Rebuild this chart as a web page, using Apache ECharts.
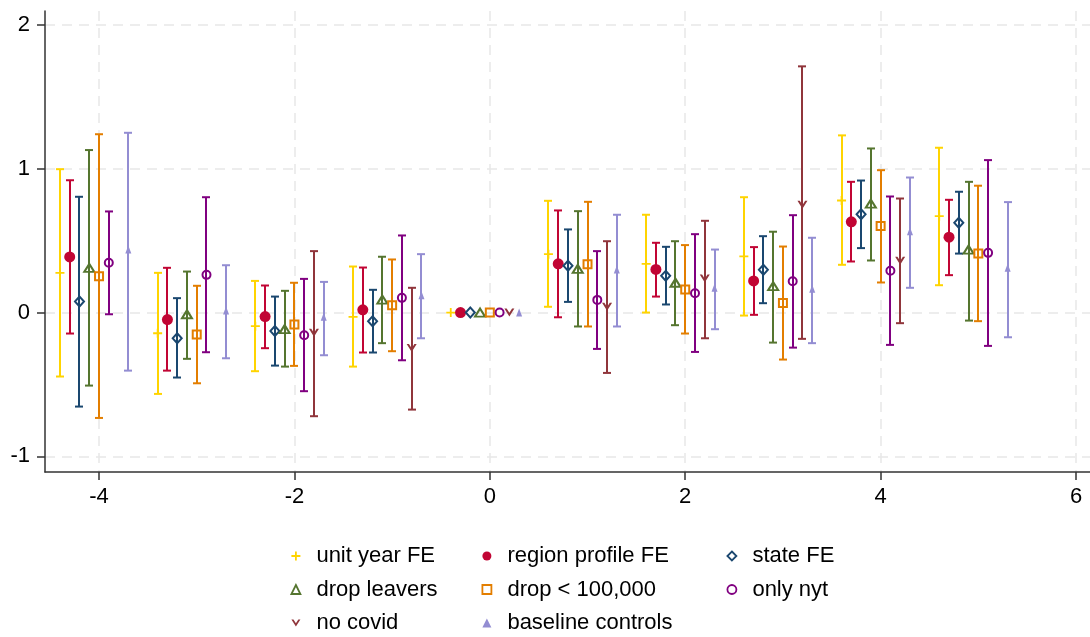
<!DOCTYPE html>
<html>
<head>
<meta charset="utf-8">
<script src="https://cdn.jsdelivr.net/npm/echarts@6/dist/echarts.min.js"></script>
<style>html,body{margin:0;padding:0;background:#fff}#c{width:1090px;height:637px}</style>
</head>
<body>
<div id="c"></div>
<script>
const periods = [-4, -3, -2, -1, 0, 1, 2, 3, 4, 5];
const xTicks = [-4, -2, 0, 2, 4, 6];
const yTicks = [-1, 0, 1, 2];

const names = ['unit year FE', 'region profile FE', 'state FE', 'drop leavers', 'drop < 100,000', 'only nyt', 'no covid', 'baseline controls'];

const unitYearPt = [0.276, -0.144, -0.095, -0.03, 0, 0.406, 0.339, 0.39, 0.779, 0.67];
const unitYearLo = [-0.445, -0.566, -0.408, -0.376, 0, 0.04, 0.0, -0.021, 0.332, 0.19];
const unitYearHi = [0.997, 0.276, 0.22, 0.32, 0, 0.777, 0.68, 0.802, 1.232, 1.146];

const regionPt = [0.387, -0.049, -0.028, 0.019, 0, 0.339, 0.3, 0.22, 0.631, 0.524];
const regionLo = [-0.146, -0.404, -0.248, -0.278, 0, -0.033, 0.111, -0.016, 0.355, 0.26];
const regionHi = [0.92, 0.311, 0.188, 0.313, 0, 0.71, 0.485, 0.455, 0.909, 0.784];

const statePt = [0.077, -0.179, -0.128, -0.06, 0, 0.325, 0.255, 0.297, 0.684, 0.624];
const stateLo = [-0.654, -0.452, -0.369, -0.278, 0, 0.074, 0.056, 0.065, 0.448, 0.41];
const stateHi = [0.805, 0.1, 0.111, 0.158, 0, 0.578, 0.457, 0.531, 0.918, 0.84];

const leaversPt = [0.31, -0.012, -0.115, 0.09, 0, 0.304, 0.207, 0.183, 0.758, 0.438];
const leaversLo = [-0.508, -0.322, -0.376, -0.213, 0, -0.097, -0.088, -0.209, 0.362, -0.056];
const leaversHi = [1.13, 0.285, 0.151, 0.388, 0, 0.705, 0.496, 0.562, 1.141, 0.909];

const drop100kPt = [0.253, -0.153, -0.084, 0.051, 0, 0.336, 0.16, 0.067, 0.601, 0.41];
const drop100kLo = [-0.733, -0.492, -0.371, -0.269, 0, -0.097, -0.146, -0.327, 0.209, -0.06];
const drop100kHi = [1.24, 0.186, 0.207, 0.369, 0, 0.77, 0.469, 0.459, 0.99, 0.882];

const nytPt = [0.346, 0.262, -0.158, 0.102, 0, 0.088, 0.134, 0.218, 0.29, 0.415];
const nytLo = [-0.012, -0.276, -0.547, -0.332, 0, -0.253, -0.274, -0.244, -0.225, -0.232];
const nytHi = [0.703, 0.802, 0.234, 0.536, 0, 0.427, 0.545, 0.677, 0.807, 1.06];

const covidPt = [null, null, -0.14, -0.246, 0, 0.04, 0.237, 0.75, 0.36, null];
const covidLo = [null, null, -0.721, -0.675, 0, -0.42, -0.179, -0.183, -0.074, null];
const covidHi = [null, null, 0.427, 0.172, 0, 0.496, 0.638, 1.712, 0.793, null];

const baselinePt = [0.438, 0.014, -0.03, 0.12, 0, 0.3, 0.172, 0.165, 0.566, 0.311];
const baselineLo = [-0.404, -0.318, -0.297, -0.179, 0, -0.097, -0.116, -0.213, 0.172, -0.172];
const baselineHi = [1.25, 0.329, 0.213, 0.406, 0, 0.68, 0.438, 0.52, 0.939, 0.768];

const allPt = [unitYearPt, regionPt, statePt, leaversPt, drop100kPt, nytPt, covidPt, baselinePt];
const allLo = [unitYearLo, regionLo, stateLo, leaversLo, drop100kLo, nytLo, covidLo, baselineLo];
const allHi = [unitYearHi, regionHi, stateHi, leaversHi, drop100kHi, nytHi, covidHi, baselineHi];

// styling
const offsets = [-0.4, -0.3, -0.2, -0.1, 0, 0.1, 0.2, 0.3];
const colors = ['#FFD400', '#C10534', '#1A476F', '#55752F', '#E37E00', '#800080', '#90353B', '#938DD2'];
const plusPath = 'path://M4,0h2v4h4v2h-4v4h-2v-4h-4v-2h4z';
const vPath = 'path://M0,0L2.3,0L5,4.3L7.7,0L10,0L5,8Z';
const symStyles = [
  {symbol: plusPath, size: 9, hollow: false},
  {symbol: 'circle', size: 11, hollow: false},
  {symbol: 'diamond', size: [9, 10], hollow: true},
  {symbol: 'triangle', size: [10, 8], hollow: true},
  {symbol: 'rect', size: 8, hollow: true},
  {symbol: 'circle', size: 8, hollow: true},
  {symbol: vPath, size: [10, 8], hollow: false},
  {symbol: 'triangle', size: [6, 8], hollow: false}
];

const FONT = 'Arial, "Liberation Sans", sans-serif';
const series = [];
names.forEach((nm, i) => {
  const bars = [];
  const pts = [];
  periods.forEach((t, j) => {
    const p = allPt[i][j];
    if (p === null) return;
    const x = +(t + offsets[i]).toFixed(2);
    bars.push([x, allLo[i][j], allHi[i][j]]);
    pts.push([x, p]);
  });
  const col = colors[i];
  series.push({
    type: 'custom',
    name: nm + ' ci',
    data: bars,
    z: 2 + i * 2,
    silent: true,
    renderItem: function (params, api) {
      const x = api.value(0), lo = api.value(1), hi = api.value(2);
      if (lo === hi) return null;
      const a = api.coord([x, lo]);
      const b = api.coord([x, hi]);
      const cx = Math.round(a[0]);
      const hw = 4;
      const st = {stroke: col, lineWidth: 2, fill: null};
      return {
        type: 'group',
        children: [
          {type: 'line', shape: {x1: cx, y1: a[1], x2: cx, y2: b[1]}, style: st},
          {type: 'line', shape: {x1: cx - hw, y1: a[1], x2: cx + hw, y2: a[1]}, style: st},
          {type: 'line', shape: {x1: cx - hw, y1: b[1], x2: cx + hw, y2: b[1]}, style: st}
        ]
      };
    }
  });
  const ss = symStyles[i];
  series.push({
    type: 'scatter',
    name: nm,
    data: pts,
    z: 3 + i * 2,
    symbol: ss.symbol,
    symbolSize: ss.size,
    itemStyle: ss.hollow ? {color: 'rgba(255,255,255,0)', borderColor: col, borderWidth: 2, opacity: 1}
                         : {color: col, opacity: 1},
    emphasis: {disabled: true}
  });
});

function legendCol(iconCenter, list) {
  return {
    orient: 'vertical',
    left: iconCenter - 4.5,
    top: 545,
    itemWidth: 9,
    itemHeight: 9,
    itemGap: 11.5,
    padding: 0,
    selectedMode: false,
    textStyle: {fontFamily: FONT, fontSize: 22, color: '#000', lineHeight: 22, padding: [0, 0, 0, 11]},
    data: list.map(k => {
      const ss = symStyles[k];
      return {name: names[k], icon: ss.symbol,
        itemStyle: ss.hollow ? {color: 'rgba(255,255,255,0)', borderColor: colors[k], borderWidth: 1.8} : {color: colors[k], borderWidth: 0}};
    })
  };
}

const chart = echarts.init(document.getElementById('c'), null, {renderer: 'canvas'});
chart.setOption({
  animation: false,
  backgroundColor: '#fff',
  grid: {left: 45, right: 0, top: 11, bottom: 165, containLabel: false},
  legend: [legendCol(295, [0, 3, 6]), legendCol(486, [1, 4, 7]), legendCol(731, [2, 5])],
  xAxis: {
    type: 'value', min: -4.553, max: 6.143,
    axisLine: {show: true, onZero: false, lineStyle: {color: '#333', width: 1.5}},
    axisTick: {show: true, length: 8, customValues: xTicks, lineStyle: {color: '#333', width: 1.5}},
    axisLabel: {customValues: xTicks, margin: 14, fontFamily: FONT, fontSize: 22, color: '#000'},
    splitLine: {show: true, lineStyle: {color: '#E8E8E8', width: 1.5, type: [10, 7]}}
  },
  yAxis: {
    type: 'value', min: -1.109, max: 2.097,
    axisLine: {show: true, onZero: false, lineStyle: {color: '#333', width: 1.5}},
    axisTick: {show: true, length: 8, customValues: yTicks, lineStyle: {color: '#333', width: 1.5}},
    axisLabel: {customValues: yTicks, margin: 15, fontFamily: FONT, fontSize: 22, color: '#000'},
    splitLine: {show: true, lineStyle: {color: '#E8E8E8', width: 1.5, type: [10, 7]}}
  },
  series: series
});
</script>
</body>
</html>
